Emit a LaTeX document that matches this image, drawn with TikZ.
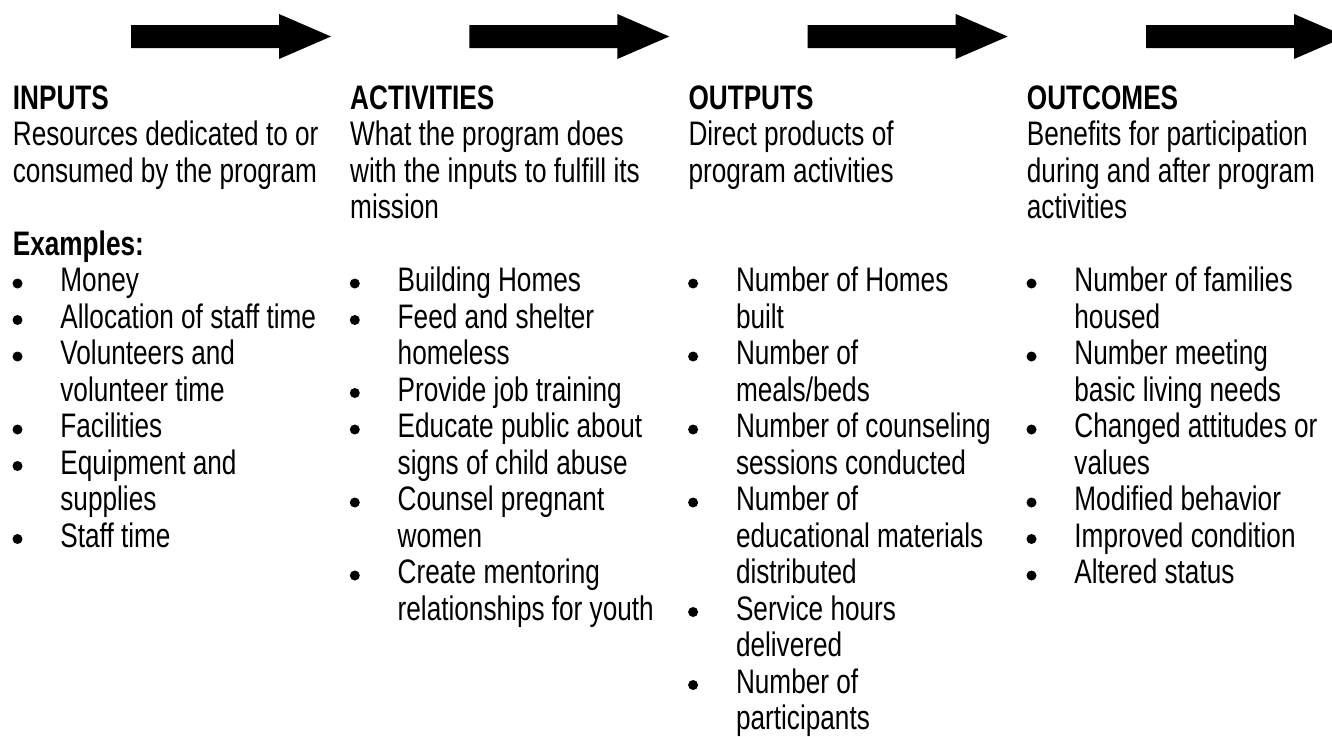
\documentclass[tikz,border=0pt]{standalone}
\usepackage{fontspec}
\setmainfont{Liberation Sans}[FakeStretch=0.77]
\begin{document}
\begin{tikzpicture}[x=1pt,y=-1pt,
  txt/.style={anchor=base west, inner sep=0pt, font=\fontsize{34}{36.5}\selectfont},
  hd/.style={anchor=base west, inner sep=0pt, font=\fontsize{34}{36.5}\selectfont\bfseries},
  dot/.style={circle, fill=black, inner sep=0pt, minimum size=10pt},
  fatarrow/.style={fill=black}]
\clip (0,0) rectangle (1332,736);
\useasboundingbox (0,0) rectangle (1332,736);
% arrows
\foreach \x in {131,469.3,807.7,1146}{
  \fill[fatarrow] (\x,25) -- (\x+148,25) -- (\x+148,14) -- (\x+200,36.5) -- (\x+148,59) -- (\x+148,48) -- (\x,48) -- cycle;
}
% column 1
\node[hd]  (h1)  at (12.7,109)   {INPUTS};
\node[txt] (d1a) at (12.7,145.5) {Resources dedicated to or};
\node[txt] (d1b) at (12.7,182)   {consumed by the program};
\node[hd]  (ex)  at (12.7,255)   {Examples:};
\node[dot] (b1a) at (17.5,283.5) {};
\node[txt] (i1a) at (60.2,291.5) {Money};
\node[dot] (b1b) at (17.5,320)   {};
\node[txt] (i1b) at (60.2,328)   {Allocation of staff time};
\node[dot] (b1c) at (17.5,356.5) {};
\node[txt] (i1c) at (60.2,364.5) {Volunteers and};
\node[txt] (i1d) at (60.2,401)   {volunteer time};
\node[dot] (b1d) at (17.5,429.5) {};
\node[txt] (i1e) at (60.2,437.5) {Facilities};
\node[dot] (b1e) at (17.5,466)   {};
\node[txt] (i1f) at (60.2,474)   {Equipment and};
\node[txt] (i1g) at (60.2,510.5) {supplies};
\node[dot] (b1f) at (17.5,539)   {};
\node[txt] (i1h) at (60.2,547)   {Staff time};
% column 2
\node[hd]  (h2)  at (350,109)   {ACTIVITIES};
\node[txt] (d2a) at (350,145.5) {What the program does};
\node[txt] (d2b) at (350,182)   {with the inputs to fulfill its};
\node[txt] (d2c) at (350,218.5) {mission};
\node[dot] (b2a) at (354.8,283.5) {};
\node[txt] (i2a) at (397.5,291.5) {Building Homes};
\node[dot] (b2b) at (354.8,320)   {};
\node[txt] (i2b) at (397.5,328)   {Feed and shelter};
\node[txt] (i2c) at (397.5,364.5) {homeless};
\node[dot] (b2c) at (354.8,393)   {};
\node[txt] (i2d) at (397.5,401)   {Provide job training};
\node[dot] (b2d) at (354.8,429.5) {};
\node[txt] (i2e) at (397.5,437.5) {Educate public about};
\node[txt] (i2f) at (397.5,474)   {signs of child abuse};
\node[dot] (b2e) at (354.8,502.5) {};
\node[txt] (i2g) at (397.5,510.5) {Counsel pregnant};
\node[txt] (i2h) at (397.5,547)   {women};
\node[dot] (b2f) at (354.8,575.5) {};
\node[txt] (i2i) at (397.5,583.5) {Create mentoring};
\node[txt] (i2j) at (397.5,620)   {relationships for youth};
% column 3
\node[hd]  (h3)  at (688.3,109)   {OUTPUTS};
\node[txt] (d3a) at (688.3,145.5) {Direct products of};
\node[txt] (d3b) at (688.3,182)   {program activities};
\node[dot] (b3a) at (693.1,283.5) {};
\node[txt] (i3a) at (735.8,291.5) {Number of Homes};
\node[txt] (i3b) at (735.8,328)   {built};
\node[dot] (b3b) at (693.1,356.5) {};
\node[txt] (i3c) at (735.8,364.5) {Number of};
\node[txt] (i3d) at (735.8,401)   {meals/beds};
\node[dot] (b3c) at (693.1,429.5) {};
\node[txt] (i3e) at (735.8,437.5) {Number of counseling};
\node[txt] (i3f) at (735.8,474)   {sessions conducted};
\node[dot] (b3d) at (693.1,502.5) {};
\node[txt] (i3g) at (735.8,510.5) {Number of};
\node[txt] (i3h) at (735.8,547)   {educational materials};
\node[txt] (i3i) at (735.8,583.5) {distributed};
\node[dot] (b3e) at (693.1,612)   {};
\node[txt] (i3j) at (735.8,620)   {Service hours};
\node[txt] (i3k) at (735.8,656.5) {delivered};
\node[dot] (b3f) at (693.1,685)   {};
\node[txt] (i3l) at (735.8,693)   {Number of};
\node[txt] (i3m) at (735.8,729.5) {participants};
% column 4
\node[hd]  (h4)  at (1026.7,109)   {OUTCOMES};
\node[txt] (d4a) at (1026.7,145.5) {Benefits for participation};
\node[txt] (d4b) at (1026.7,182)   {during and after program};
\node[txt] (d4c) at (1026.7,218.5) {activities};
\node[dot] (b4a) at (1031.5,283.5) {};
\node[txt] (i4a) at (1074.2,291.5) {Number of families};
\node[txt] (i4b) at (1074.2,328)   {housed};
\node[dot] (b4b) at (1031.5,356.5) {};
\node[txt] (i4c) at (1074.2,364.5) {Number meeting};
\node[txt] (i4d) at (1074.2,401)   {basic living needs};
\node[dot] (b4c) at (1031.5,429.5) {};
\node[txt] (i4e) at (1074.2,437.5) {Changed attitudes or};
\node[txt] (i4f) at (1074.2,474)   {values};
\node[dot] (b4d) at (1031.5,502.5) {};
\node[txt] (i4g) at (1074.2,510.5) {Modified behavior};
\node[dot] (b4e) at (1031.5,539)   {};
\node[txt] (i4h) at (1074.2,547)   {Improved condition};
\node[dot] (b4f) at (1031.5,575.5) {};
\node[txt] (i4i) at (1074.2,583.5) {Altered status};
\end{tikzpicture}
\end{document}
